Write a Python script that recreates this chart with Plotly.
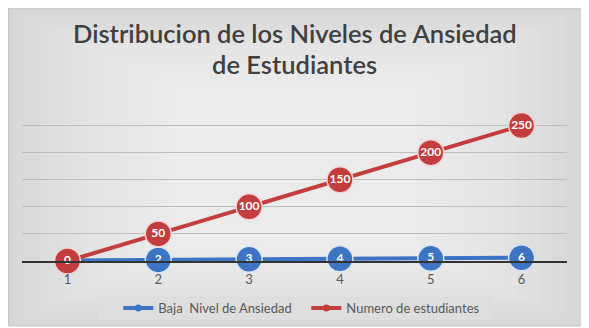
import plotly.graph_objects as go

categories = [1, 2, 3, 4, 5, 6]
tick_labels = ["1", "2", "3", "4", "5", "6"]
baja_nivel = [1, 2, 3, 4, 5, 6]
numero_estudiantes = [0, 50, 100, 150, 200, 250]
title_lines = ["Distribucion de los Niveles de Ansiedad", "de Estudiantes"]

BLUE = "#3d74c4"
RED = "#c23d3b"
FONT = "Lato"

# page body has an 8px margin, so the figure is drawn 8px smaller and offset
OFF = 8
W, H = 589 - OFF, 328 - OFF

fig = go.Figure()
for name, vals, col, edge in [("Baja\u00a0 Nivel de Ansiedad", baja_nivel, BLUE, "#dbe6f5"),
                              ("Numero de estudiantes", numero_estudiantes, RED, "#f2d6d6")]:
    fig.add_trace(go.Scatter(
        x=categories, y=vals, name=name, showlegend=False, cliponaxis=False,
        mode="lines+markers+text", text=[str(v) for v in vals],
        textposition="middle center",
        textfont=dict(family=FONT, size=12, color="white", weight="bold"),
        line=dict(color=col, width=4),
        marker=dict(size=26, color=col, line=dict(color=edge, width=1.5)),
    ))
# legend entries with small markers
for name, col in [("Baja\u00a0 Nivel de Ansiedad", BLUE), ("Numero de estudiantes", RED)]:
    fig.add_trace(go.Scatter(
        x=[None], y=[None], name=name, mode="lines+markers",
        line=dict(color=col, width=4), marker=dict(size=7, color=col),
    ))

# screen pixel -> paper helpers (plot area on screen: x 21.5..567.5, y 99..261)
def px(xp):
    return (xp - 21.5) / 546.0

def py(yp):
    return (261.0 - yp) / 162.0

# soft background gradient approximation
X0, X1, Y0, Y1 = px(8), px(583), py(326), py(8)
shapes = [dict(type="rect", xref="paper", yref="paper", x0=X0, x1=X1,
               y0=Y0, y1=Y1, fillcolor="#d6d6d6",
               line=dict(color="#c4c4c4", width=1), layer="below")]
n = 14
for i in range(n):
    inset = 0.01 + i * 0.022
    shapes.append(dict(type="rect", xref="paper", yref="paper",
                       x0=X0 + inset, x1=X1 - inset,
                       y0=Y0 + inset * 1.6, y1=Y1 - inset * 1.6,
                       fillcolor="white", opacity=0.07, line=dict(width=0),
                       layer="below"))
# legend box
shapes.append(dict(type="rect", xref="paper", yref="paper",
                   x0=px(98), x1=px(493), y0=py(320), y1=py(297),
                   fillcolor="#dddddd", line=dict(width=0), layer="below"))

annotations = [
    dict(text=title_lines[0], xref="paper", yref="paper", x=0.5, y=py(33),
         xanchor="center", yanchor="middle", showarrow=False,
         font=dict(family=FONT, size=25.5, color="#404040", weight=600)),
    dict(text=title_lines[1], xref="paper", yref="paper", x=0.5, y=py(64),
         xanchor="center", yanchor="middle", showarrow=False,
         font=dict(family=FONT, size=25.5, color="#404040", weight=600)),
]

fig.update_layout(
    width=W, height=H,
    margin=dict(l=21.5 - OFF, r=589 - 567.5, t=99 - OFF, b=328 - 261, autoexpand=False),
    paper_bgcolor="white", plot_bgcolor="rgba(0,0,0,0)",
    shapes=shapes, annotations=annotations,
    showlegend=True,
    legend=dict(orientation="h", x=px(118), xanchor="left", y=py(308), yanchor="middle",
                bgcolor="rgba(0,0,0,0)", entrywidth=143, itemwidth=30,
                font=dict(family=FONT, size=13, color="#595959")),
    font=dict(family=FONT),
)
fig.update_xaxes(range=[0.5, 6.5], tickvals=categories, ticktext=tick_labels,
                 showgrid=False, showline=True, linecolor="#333333", linewidth=1.5,
                 zeroline=False, ticks="outside", ticklen=6, tickcolor="rgba(0,0,0,0)",
                 tickfont=dict(family=FONT, size=13, color="#595959"))
fig.update_yaxes(range=[0, 299], dtick=50, showgrid=True, gridcolor="#bdbdbd",
                 gridwidth=1, zeroline=False, showticklabels=False, showline=False)

fig.write_html("out.html")
